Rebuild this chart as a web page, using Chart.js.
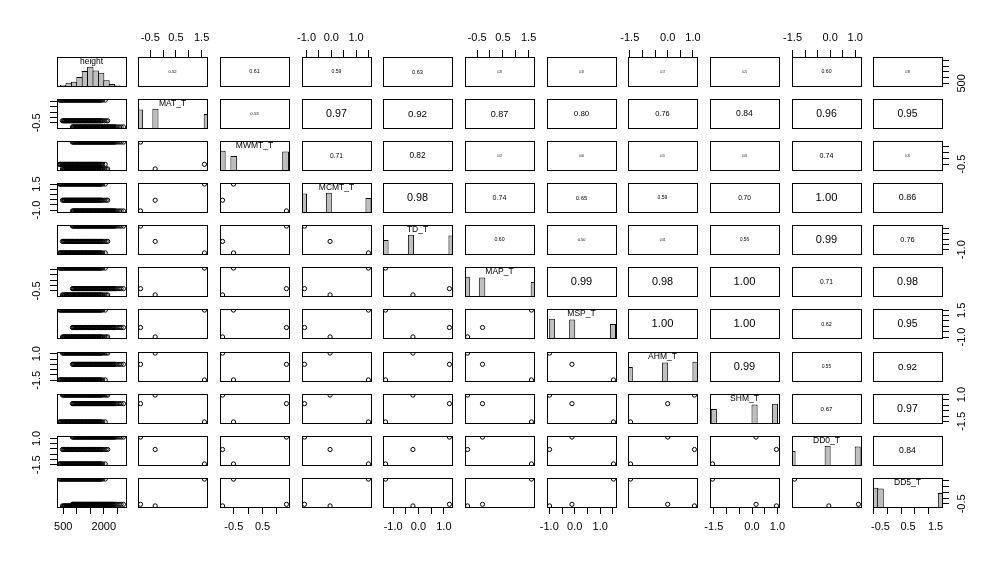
<!DOCTYPE html>
<html>
<head>
<meta charset="utf-8">
<script src="https://cdn.jsdelivr.net/npm/chart.js@4.4.1/dist/chart.umd.min.js"></script>
<style>
html,body{margin:0;padding:0;background:#fff;}
body{position:relative;width:1000px;height:565px;overflow:hidden;}
canvas{position:absolute;}
</style>
</head>
<body>
<script>
// ---------------- data ----------------
const varNames = ['height','MAT_T','MWMT_T','MCMT_T','TD_T','MAP_T','MSP_T','AHM_T','SHM_T','DD0_T','DD5_T'];

// standardized climate values of the three sites (A, B, C)
const MAT_T  = [ 1.61, -0.31, -0.88];
const MWMT_T = [-0.51, -0.89,  1.33];
const MCMT_T = [ 1.50, -0.05, -1.08];
const TD_T   = [-1.30, -0.22,  1.22];
const MAP_T  = [ 1.61, -0.87, -0.29];
const MSP_T  = [ 1.52, -0.99, -0.11];
const AHM_T  = [-1.47,  1.06,  0.00];
const SHM_T  = [-1.55,  0.96,  0.16];
const DD0_T  = [-1.42, -0.05,  1.13];
const DD5_T  = [ 1.64, -0.68, -0.54];

// relative number of trees per site (histogram bar heights)
const siteTreeShare = [0.73, 1.00, 0.96];

// tree heights per site
const heightSiteA = [362, 391, 419, 452, 478, 507, 541, 566, 599, 628, 655, 689, 716, 748, 777, 803, 836, 864, 897, 925, 951, 985, 1014, 1040, 1073, 1102, 1131, 1160, 1192, 1219, 1251, 1280, 1306, 1339, 1367, 1398, 1427, 1455, 1484, 1516, 1545, 1573, 1604, 1633, 1661, 1692, 1721, 1750, 1778, 1810, 1841, 1869, 1903, 1958, 2052];
const heightSiteB = [468, 509, 542, 570, 603, 631, 662, 694, 721, 752, 782, 810, 843, 872, 900, 931, 962, 990, 1021, 1049, 1080, 1111, 1139, 1168, 1199, 1228, 1259, 1287, 1316, 1347, 1375, 1406, 1434, 1463, 1495, 1524, 1552, 1583, 1611, 1640, 1672, 1700, 1729, 1760, 1788, 1819, 1850, 1878, 1911, 1948, 2019, 2085, 2143];
const heightSiteC = [838, 872, 901, 933, 962, 990, 1022, 1051, 1080, 1112, 1141, 1170, 1201, 1229, 1258, 1290, 1318, 1347, 1378, 1407, 1436, 1467, 1495, 1524, 1555, 1584, 1613, 1644, 1672, 1701, 1733, 1762, 1790, 1821, 1850, 1879, 1911, 1940, 1968, 1999, 2028, 2057, 2089, 2117, 2146, 2177, 2206, 2235, 2266, 2295, 2324, 2355, 2384, 2420, 2478, 2561, 2640, 2726];

// height histogram (breaks and relative counts)
const heightHistBreaks = [200, 400, 600, 800, 1000, 1200, 1400, 1600, 1800, 2000, 2200, 2400, 2600, 2800];
const heightHistCounts = [0.005, 0.05, 0.17, 0.22, 0.47, 0.78, 1.00, 0.80, 0.68, 0.30, 0.10, 0.04, 0.005];
const climateHistBinWidth = 0.2;

// absolute correlations (upper triangle, row by row)
const corrHeight = [0.52, 0.61, 0.59, 0.63, 0.28, 0.18, 0.17, 0.21, 0.60, 0.38];
const corrMAT    = [0.53, 0.97, 0.92, 0.87, 0.80, 0.76, 0.84, 0.96, 0.95];
const corrMWMT   = [0.71, 0.82, 0.07, 0.06, 0.15, 0.03, 0.74, 0.26];
const corrMCMT   = [0.98, 0.74, 0.65, 0.59, 0.70, 1.00, 0.86];
const corrTD     = [0.60, 0.50, 0.41, 0.56, 0.99, 0.76];
const corrMAP    = [0.99, 0.98, 1.00, 0.71, 0.98];
const corrMSP    = [1.00, 1.00, 0.62, 0.95];
const corrAHM    = [0.99, 0.55, 0.92];
const corrSHM    = [0.67, 0.97];
const corrDD0    = [0.84];

// tick values and labels
const heightTicks = [500, 1000, 1500, 2000, 2500];
const heightColLabels = ['500', '', '', '2000', ''];
const heightRowLabels = ['500', '', '', '', ''];
const MAT_ticks = [-0.5, 0, 0.5, 1, 1.5];
const MAT_colLabels = ['-0.5', '', '0.5', '', '1.5'];
const MAT_rowLabels = ['-0.5', '', '', '', ''];
const MWMT_ticks = [-0.5, 0, 0.5, 1];
const MWMT_colLabels = ['-0.5', '', '0.5', ''];
const MWMT_rowLabels = ['-0.5', '', '', ''];
const MCMT_ticks = [-1, -0.5, 0, 0.5, 1, 1.5];
const MCMT_colLabels = ['-1.0', '', '0.0', '', '1.0', ''];
const MCMT_rowLabels = ['-1.0', '', '', '', '', '1.5'];
const TD_ticks = [-1, -0.5, 0, 0.5, 1];
const TD_colLabels = ['-1.0', '', '0.0', '', '1.0'];
const TD_rowLabels = ['-1.0', '', '', '', ''];
const MAP_ticks = [-0.5, 0, 0.5, 1, 1.5];
const MAP_colLabels = ['-0.5', '', '0.5', '', '1.5'];
const MAP_rowLabels = ['-0.5', '', '', '', ''];
const MSP_ticks = [-1, -0.5, 0, 0.5, 1, 1.5];
const MSP_colLabels = ['-1.0', '', '0.0', '', '1.0', ''];
const MSP_rowLabels = ['-1.0', '', '', '', '', '1.5'];
const AHM_ticks = [-1.5, -1, -0.5, 0, 0.5, 1];
const AHM_colLabels = ['-1.5', '', '', '0.0', '', '1.0'];
const AHM_rowLabels = ['-1.5', '', '', '', '', '1.0'];
const SHM_ticks = [-1.5, -1, -0.5, 0, 0.5, 1];
const SHM_colLabels = ['-1.5', '', '', '0.0', '', '1.0'];
const SHM_rowLabels = ['-1.5', '', '', '', '', '1.0'];
const DD0_ticks = [-1.5, -1, -0.5, 0, 0.5, 1];
const DD0_colLabels = ['-1.5', '', '', '0.0', '', '1.0'];
const DD0_rowLabels = ['-1.5', '', '', '', '', '1.0'];
const DD5_ticks = [-0.5, 0, 0.5, 1, 1.5];
const DD5_colLabels = ['-0.5', '', '0.5', '', '1.5'];
const DD5_rowLabels = ['-0.5', '', '', '', ''];

// ---------------- layout / style ----------------
const FONT = '"Liberation Sans", Arial, Helvetica, sans-serif';
const M = 30, PW = 69, PH = 29;
const colLeft = [57, 138, 220, 302, 383, 465, 547, 628, 710, 792, 873];
const rowTop  = [57, 99, 141, 183, 225, 267, 309, 352, 394, 436, 478];

const heightAll = heightSiteA.concat(heightSiteB, heightSiteC);
const heightSites = [heightSiteA, heightSiteB, heightSiteC];
const siteVals = [null, MAT_T, MWMT_T, MCMT_T, TD_T, MAP_T, MSP_T, AHM_T, SHM_T, DD0_T, DD5_T];
const tickVals = [heightTicks, MAT_ticks, MWMT_ticks, MCMT_ticks, TD_ticks, MAP_ticks, MSP_ticks, AHM_ticks, SHM_ticks, DD0_ticks, DD5_ticks];
const colLabels = [heightColLabels, MAT_colLabels, MWMT_colLabels, MCMT_colLabels, TD_colLabels, MAP_colLabels, MSP_colLabels, AHM_colLabels, SHM_colLabels, DD0_colLabels, DD5_colLabels];
const rowLabels = [heightRowLabels, MAT_rowLabels, MWMT_rowLabels, MCMT_rowLabels, TD_rowLabels, MAP_rowLabels, MSP_rowLabels, AHM_rowLabels, SHM_rowLabels, DD0_rowLabels, DD5_rowLabels];
const corrRows = [corrHeight, corrMAT, corrMWMT, corrMCMT, corrTD, corrMAP, corrMSP, corrAHM, corrSHM, corrDD0];

function dataRange(k) {
  const v = k === 0 ? heightAll : siteVals[k];
  const lo = Math.min(...v), hi = Math.max(...v);
  const pad = (hi - lo) * 0.04;
  return [lo - pad, hi + pad];
}

const measureCtx = document.createElement('canvas').getContext('2d');
function widestLabel(labels) {
  measureCtx.font = '11px ' + FONT;
  let w = 0;
  labels.forEach(l => { if (l) w = Math.max(w, measureCtx.measureText(l).width); });
  return w;
}

function axisScale(k, position) {
  const [lo, hi] = dataRange(k);
  const horiz = position === 'top' || position === 'bottom';
  const labels = horiz ? colLabels[k] : rowLabels[k];
  const vals = tickVals[k];
  const cfg = {
    type: 'linear', axis: horiz ? 'x' : 'y', position: position,
    min: lo, max: hi, bounds: 'data', offset: false,
    afterBuildTicks: s => { s.ticks = vals.map(v => ({value: v})); },
    afterFit: s => {
      if (horiz) s.height = M; else s.width = M;
      s.paddingLeft = 0; s.paddingRight = 0; s.paddingTop = 0; s.paddingBottom = 0;
    },
    grid: {display: true, drawOnChartArea: false, drawTicks: true, tickLength: 7, color: '#000', lineWidth: 1},
    border: {display: false},
    ticks: {
      autoSkip: false, color: '#000', font: {family: FONT, size: 11},
      callback: (v, i) => labels[i]
    }
  };
  if (horiz) {
    cfg.ticks.maxRotation = 0; cfg.ticks.minRotation = 0;
    cfg.ticks.padding = position === 'top' ? 5.2 : 6.1;
  } else {
    cfg.ticks.minRotation = 90; cfg.ticks.maxRotation = 90;
    cfg.ticks.crossAlign = 'center';
    cfg.ticks.padding = 13 - widestLabel(labels) / 2;
  }
  return cfg;
}

function histData(k) {
  if (k === 0) {
    return heightHistCounts.map((c, n) => ({x: (heightHistBreaks[n] + heightHistBreaks[n + 1]) / 2, y: c}));
  }
  const w = climateHistBinWidth;
  const v = siteVals[k];
  const idx = v.map(x => Math.ceil(x / w - 1e-6));
  const lo = Math.min(...idx), hi = Math.max(...idx);
  const counts = new Array(hi - lo + 1).fill(0);
  v.forEach((x, s) => { counts[idx[s] - lo] += siteTreeShare[s]; });
  const mx = Math.max(...counts);
  return counts.map((c, n) => ({x: (lo + n - 0.5) * w, y: c / mx}));
}

const panelDeco = {
  id: 'panelDeco',
  afterDraw(chart, args, opts) {
    const ctx = chart.ctx, a = chart.chartArea;
    ctx.save();
    ctx.fillStyle = '#000';
    ctx.textAlign = 'center';
    ctx.textBaseline = 'middle';
    if (opts.text) {
      ctx.font = opts.size + 'px ' + FONT;
      ctx.fillText(opts.text, (a.left + a.right) / 2, (a.top + a.bottom) / 2 + 0.5);
    }
    if (opts.label) {
      ctx.font = '8.5px ' + FONT;
      ctx.fillText(opts.label, (a.left + a.right) / 2, a.top + 5);
    }
    ctx.strokeStyle = '#000';
    ctx.lineWidth = 1;
    ctx.strokeRect(a.left + 0.5, a.top + 0.5, a.right - a.left, a.bottom - a.top);
    ctx.restore();
  }
};
Chart.register(panelDeco);
Chart.defaults.font.family = FONT;

function makePanel(i, j) {
  const cv = document.createElement('canvas');
  cv.width = PW + 2 * M; cv.height = PH + 2 * M;
  cv.style.left = (colLeft[j] - M) + 'px';
  cv.style.top = (rowTop[i] - M) + 'px';
  document.body.appendChild(cv);

  const [xlo, xhi] = dataRange(j);
  const scales = {
    x: {type: 'linear', min: xlo, max: xhi, display: false, bounds: 'data', offset: false}
  };
  if (i === j) scales.y = {type: 'linear', min: 0, max: 1.5, display: false};
  else { const [ylo, yhi] = dataRange(i); scales.y = {type: 'linear', min: ylo, max: yhi, display: false, bounds: 'data'}; }

  const pad = {left: M, right: M, top: M, bottom: M};
  if (i === 0 && j % 2 === 1) { scales.xTop = axisScale(j, 'top'); pad.top = 0; }
  if (i === 10 && j % 2 === 0) { scales.xBottom = axisScale(j, 'bottom'); pad.bottom = 0; }
  if (j === 0 && i % 2 === 1) { scales.yLeft = axisScale(i, 'left'); pad.left = 0; }
  if (j === 10 && i % 2 === 0) { scales.yRight = axisScale(i, 'right'); pad.right = 0; }

  let type = 'scatter';
  let datasets = [];
  const deco = {};
  if (i > j) {
    let pts = [];
    if (j === 0) {
      heightSites.forEach((hs, s) => hs.forEach(h => pts.push({x: h, y: siteVals[i][s]})));
    } else {
      pts = [0, 1, 2].map(s => ({x: siteVals[j][s], y: siteVals[i][s]}));
    }
    datasets = [{
      data: pts, showLine: false, clip: 0,
      pointRadius: 2.1, pointBorderWidth: 1, pointBorderColor: '#000',
      pointBackgroundColor: 'rgba(0,0,0,0)', pointHoverRadius: 2.1
    }];
  } else if (i === j) {
    type = 'bar';
    const w = i === 0 ? heightHistBreaks[1] - heightHistBreaks[0] : climateHistBinWidth;
    const binPx = w / (xhi - xlo) * PW;
    datasets = [{
      data: histData(i), backgroundColor: '#BEBEBE', borderColor: '#000', borderWidth: 1,
      borderSkipped: 'start', categoryPercentage: 1, barPercentage: (binPx + 1) / binPx,
      inflateAmount: 0, clip: 0
    }];
    deco.label = varNames[i];
  } else {
    const r = corrRows[i][j - i - 1];
    deco.text = r.toFixed(2);
    deco.size = Math.max(2.6, 11.2 * Math.pow(r, 1.5));
  }

  new Chart(cv, {
    type: type,
    data: {datasets: datasets},
    options: {
      responsive: false, animation: false, devicePixelRatio: 1, events: [],
      layout: {padding: pad, autoPadding: false},
      scales: scales,
      plugins: {legend: {display: false}, tooltip: {enabled: false}, title: {display: false}, panelDeco: deco}
    }
  });
}

for (let i = 0; i < 11; i++) for (let j = 0; j < 11; j++) makePanel(i, j);
</script>
</body>
</html>
